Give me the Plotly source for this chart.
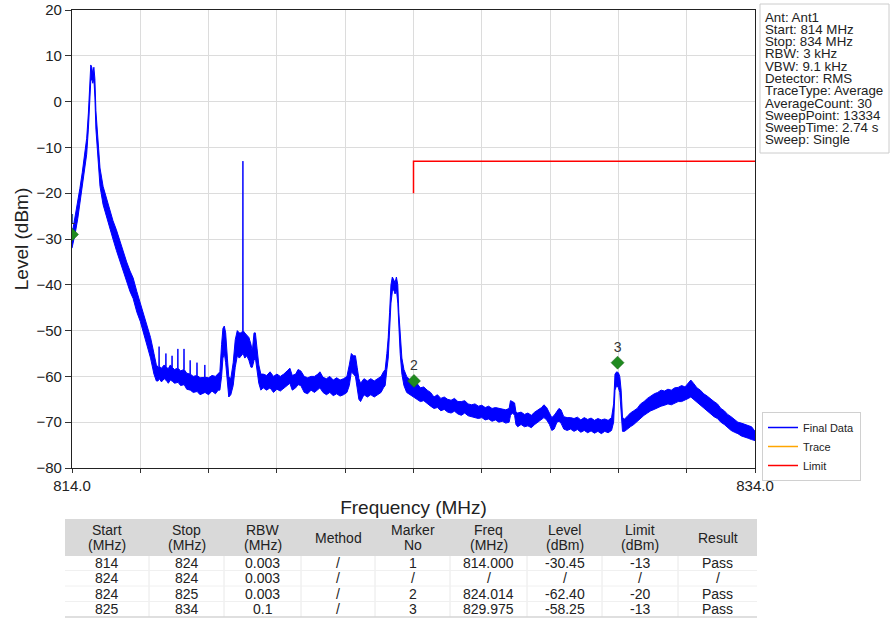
import plotly.graph_objects as go

# ---------------- data ----------------
# Final Data trace: frequency (MHz) with lower / upper edge of the noisy trace band (dBm)
freq_mhz = [
    814.00, 814.05, 814.10, 814.17, 814.23, 814.30, 814.36, 814.43, 814.48, 814.52,
    814.55, 814.58, 814.61, 814.64, 814.67, 814.70, 814.75, 814.82, 814.91, 815.00,
    815.10, 815.20, 815.30, 815.41, 815.50, 815.60, 815.70, 815.79, 815.90, 816.00,
    816.10, 816.20, 816.30, 816.40, 816.47,
    816.52, 816.545, 816.55, 816.555, 816.62, 816.70, 816.745, 816.75, 816.755, 816.82,
    816.88, 816.925, 816.93, 816.935, 817.00, 817.095, 817.10, 817.105, 817.18, 817.275,
    817.28, 817.285, 817.36, 817.455, 817.46, 817.465, 817.55, 817.655, 817.66, 817.665,
    817.75, 817.885, 817.89, 817.895, 818.00, 818.10, 818.20, 818.28,
    818.33, 818.38, 818.42, 818.46, 818.50, 818.55, 818.59, 818.65, 818.72, 818.78,
    818.84, 818.90, 818.96, 819.00, 819.005, 819.01, 819.06, 819.12, 819.18, 819.24,
    819.28, 819.33, 819.37, 819.42, 819.47, 819.53,
    819.60, 819.70, 819.80, 819.90, 820.00, 820.10, 820.20, 820.30, 820.38, 820.45,
    820.55, 820.62, 820.70, 820.80, 820.90, 821.00, 821.10, 821.20, 821.26, 821.35,
    821.45, 821.55, 821.65, 821.75, 821.85, 821.95, 822.05, 822.12, 822.18, 822.24,
    822.30, 822.35, 822.40, 822.45, 822.55, 822.65, 822.75, 822.85, 822.95, 823.05,
    823.12,
    823.17, 823.22, 823.26, 823.30, 823.34, 823.38, 823.42, 823.46, 823.50, 823.54,
    823.57, 823.61, 823.66, 823.72, 823.80, 823.90,
    824.00, 824.10, 824.20, 824.30, 824.40, 824.50, 824.60, 824.70, 824.80, 824.90,
    825.00, 825.10, 825.20, 825.30, 825.40, 825.50, 825.60, 825.70, 825.80, 825.90,
    826.00, 826.10, 826.20, 826.30, 826.40, 826.50, 826.60, 826.70, 826.80, 826.84,
    826.90, 826.96, 827.00, 827.05, 827.15, 827.25, 827.35, 827.45, 827.55, 827.65,
    827.75, 827.82, 827.90, 827.98, 828.05, 828.12, 828.20, 828.26, 828.32, 828.40,
    828.50, 828.60, 828.70, 828.80, 828.90, 829.00, 829.10, 829.20, 829.30, 829.40,
    829.50, 829.60, 829.70, 829.80,
    829.86, 829.90, 829.95, 830.00, 830.04, 830.08, 830.12, 830.18, 830.25, 830.35,
    830.45, 830.55, 830.65, 830.75, 830.85, 830.95, 831.05, 831.15, 831.25, 831.35,
    831.45, 831.55, 831.65, 831.75, 831.85, 831.95, 832.05, 832.12, 832.20, 832.30,
    832.40, 832.50, 832.60, 832.70, 832.80, 832.90, 833.00, 833.10, 833.20, 833.30,
    833.40, 833.50, 833.60, 833.70, 833.80, 833.90, 834.00,
]
level_low = [
    -32.0, -30.5, -28.5, -25.5, -22.5, -19.0, -15.5, -11.5, -6.0, 0.0,
    4.5, 5.0, 4.0, 5.0, 1.0, -6.0, -12.0, -18.5, -22.5, -25.0,
    -27.5, -30.0, -32.5, -35.0, -37.0, -39.0, -41.5, -43.0, -46.0, -48.0,
    -50.5, -53.0, -56.0, -59.5, -61.0,
    -61.0, -60.5, -60.5, -60.5, -61.2, -60.5, -60.8, -60.8, -60.8, -61.5,
    -60.8, -61.0, -61.0, -61.0, -61.5, -61.3, -61.3, -61.3, -62.0, -61.8,
    -61.8, -61.8, -62.8, -63.0, -63.0, -63.0, -63.5, -63.3, -63.3, -63.3,
    -64.0, -63.5, -63.5, -63.5, -64.0, -63.2, -63.8, -63.0,
    -63.0, -60.0, -56.0, -55.0, -57.0, -61.0, -64.5, -64.0, -62.0, -58.0,
    -55.5, -56.0, -55.5, -55.0, -55.0, -55.0, -56.0, -55.5, -56.5, -58.0,
    -58.0, -56.5, -56.0, -59.5, -61.5, -63.0,
    -62.5, -63.0, -62.5, -63.5, -62.8, -63.2, -62.5, -62.0, -61.5, -63.0,
    -62.5, -61.8, -62.0, -63.5, -63.8, -63.0, -63.5, -62.8, -62.5, -63.5,
    -64.0, -63.5, -64.2, -63.8, -64.3, -64.0, -63.5, -62.0, -59.0, -59.5,
    -60.0, -62.5, -65.0, -65.5, -64.0, -64.5, -64.0, -64.5, -64.0, -63.5,
    -62.5,
    -62.0, -58.5, -56.0, -50.0, -44.0, -41.5, -41.0, -42.0, -41.0, -44.0,
    -50.0, -55.0, -59.5, -62.0, -63.5, -64.0,
    -64.5, -65.0, -65.5, -65.3, -66.0, -66.5, -67.0, -66.8, -67.5, -67.2,
    -67.8, -68.0, -67.6, -68.2, -68.5, -68.0, -68.6, -68.8, -69.0, -69.2,
    -69.0, -69.5, -69.3, -69.8, -69.5, -70.0, -69.8, -70.2, -70.0, -68.5,
    -68.0, -68.5, -70.5, -71.0, -70.5, -71.0, -70.8, -71.2, -70.5, -70.0,
    -69.5, -69.0, -69.5, -70.5, -71.8, -71.5, -70.0, -69.8, -70.2, -71.5,
    -71.8, -71.5, -72.0, -71.6, -72.2, -71.8, -72.3, -71.9, -72.4, -72.0,
    -72.5, -72.0, -72.3, -71.8,
    -70.0, -63.0, -62.0, -62.5, -63.5, -67.0, -72.0, -72.0, -71.5, -71.0,
    -70.5, -69.8, -69.0, -68.5, -68.0, -67.5, -67.2, -66.8, -66.5, -66.3,
    -66.0, -66.2, -65.8, -65.5, -65.5, -65.2, -64.8, -64.5, -65.0, -65.8,
    -66.3, -67.0, -67.6, -68.2, -68.8, -69.2, -70.0, -70.5, -71.2, -71.8,
    -72.2, -72.5, -73.0, -73.2, -73.5, -73.8, -74.0,
]
level_high = [
    -29.0, -27.0, -25.0, -22.0, -19.0, -15.5, -12.0, -8.0, -2.5, 3.5,
    8.0, 7.5, 6.0, 7.5, 5.0, -2.0, -8.0, -14.5, -18.5, -21.0,
    -23.5, -26.0, -28.0, -30.5, -33.0, -35.0, -37.0, -38.5, -41.5, -44.0,
    -46.0, -48.5, -51.5, -55.0, -57.5,
    -58.0, -57.8, -53.5, -57.8, -58.2, -57.5, -58.0, -55.0, -58.0, -58.3,
    -57.5, -58.0, -55.5, -58.0, -58.5, -58.2, -54.0, -58.2, -58.8, -58.5,
    -54.0, -58.5, -59.3, -59.5, -56.5, -59.5, -60.0, -59.8, -57.0, -59.8,
    -60.3, -60.2, -57.5, -60.2, -60.3, -59.8, -60.0, -59.5,
    -59.0, -53.0, -49.5, -49.0, -50.5, -56.0, -60.0, -60.5, -57.0, -52.0,
    -50.0, -50.5, -50.5, -50.0, -13.0, -50.0, -50.5, -51.0, -51.5, -53.0,
    -54.5, -50.5, -50.5, -54.0, -57.5, -59.5,
    -59.5, -59.8, -59.0, -60.0, -59.5, -60.0, -59.5, -58.8, -58.2, -59.8,
    -59.5, -58.5, -58.8, -60.0, -60.3, -60.0, -60.0, -59.5, -59.0, -60.2,
    -60.5, -60.0, -60.8, -60.3, -60.8, -60.5, -60.0, -57.5, -55.0, -55.5,
    -55.5, -58.0, -60.5, -61.5, -60.5, -61.0, -60.5, -61.0, -60.5, -60.0,
    -59.0,
    -58.5, -55.0, -51.5, -46.0, -40.0, -38.3, -38.8, -39.5, -38.3, -40.0,
    -46.0, -51.0, -56.0, -58.5, -60.0, -60.8,
    -61.2, -61.5, -62.5, -62.3, -63.0, -63.5, -64.5, -64.0, -64.8, -64.5,
    -65.0, -65.2, -64.8, -65.5, -65.5, -65.3, -66.0, -66.2, -66.0, -66.5,
    -66.3, -66.8, -66.5, -67.0, -66.8, -67.0, -67.2, -67.3, -67.0, -65.3,
    -65.5, -65.8, -67.8, -68.0, -67.8, -68.3, -68.0, -68.5, -67.8, -67.3,
    -66.8, -66.2, -66.8, -68.0, -69.0, -68.5, -67.5, -67.0, -67.3, -68.8,
    -69.0, -69.0, -69.2, -68.9, -69.5, -69.0, -69.4, -69.1, -69.6, -69.2,
    -69.5, -69.3, -69.6, -69.0,
    -66.0, -59.5, -59.0, -59.2, -60.0, -63.0, -69.0, -69.3, -68.8, -68.0,
    -67.5, -67.0, -66.0, -65.5, -64.8, -64.3, -63.8, -63.5, -63.0, -63.2,
    -62.8, -63.0, -62.5, -62.4, -62.0, -62.3, -61.5, -60.8, -61.5, -62.5,
    -63.0, -63.8, -64.3, -65.0, -65.5, -66.0, -67.0, -67.5, -68.3, -68.8,
    -69.5, -70.0, -70.2, -70.5, -70.8, -71.0, -72.0,
]
assert len(freq_mhz) == len(level_low) == len(level_high)

# Limit line
limit_freq = [824.0, 824.0, 834.0]
limit_level = [-20.0, -13.0, -13.0]

# Markers (position as drawn)
marker_no = ["1", "2", "3"]
marker_freq = [814.000, 824.014, 829.975]
marker_level = [-29.0, -61.0, -57.0]

# Info box text
info_lines = ["Ant: Ant1", "Start: 814 MHz", "Stop: 834 MHz", "RBW: 3 kHz",
              "VBW: 9.1 kHz", "Detector: RMS", "TraceType: Average",
              "AverageCount: 30", "SweepPoint: 13334", "SweepTime: 2.74 s",
              "Sweep: Single"]

# Axis ticks
x_tick_vals = [814, 816, 818, 820, 822, 824, 826, 828, 830, 832, 834]
x_tick_text = ["814.0", "", "", "", "", "", "", "", "", "", "834.0"]
y_tick_vals = [20, 10, 0, -10, -20, -30, -40, -50, -60, -70, -80]

# Result table
tbl_header = [["Start", "(MHz)"], ["Stop", "(MHz)"], ["RBW", "(MHz)"], ["Method"],
              ["Marker", "No"], ["Freq", "(MHz)"], ["Level", "(dBm)"],
              ["Limit", "(dBm)"], ["Result"]]
tbl_start = ["814", "824", "824", "825"]
tbl_stop = ["824", "824", "825", "834"]
tbl_rbw = ["0.003", "0.003", "0.003", "0.1"]
tbl_method = ["/", "/", "/", "/"]
tbl_marker = ["1", "/", "2", "3"]
tbl_freq = ["814.000", "/", "824.014", "829.975"]
tbl_level = ["-30.45", "/", "-62.40", "-58.25"]
tbl_limit = ["-13", "/", "-20", "-13"]
tbl_result = ["Pass", "/", "Pass", "Pass"]
tbl_columns = [tbl_start, tbl_stop, tbl_rbw, tbl_method, tbl_marker,
               tbl_freq, tbl_level, tbl_limit, tbl_result]

# ---------------- figure ----------------
W, H = 891, 625
FONT = "Liberation Sans, Arial, sans-serif"
BLUE = "#0000ff"
TXT = "#222222"


def px_x(px):
    return px / W


def px_y(py):
    return (H - py) / H


fig = go.Figure()

# trace band (lower edge, then upper edge filled to it)
fig.add_trace(go.Scatter(x=freq_mhz, y=level_low, mode="lines",
                         line=dict(color=BLUE, width=1), showlegend=False,
                         hoverinfo="skip"))
fig.add_trace(go.Scatter(x=freq_mhz, y=level_high, mode="lines",
                         line=dict(color=BLUE, width=1), fill="tonexty",
                         fillcolor=BLUE, showlegend=False))

# legend entries
fig.add_trace(go.Scatter(x=[None], y=[None], mode="lines", name="Final Data",
                         line=dict(color=BLUE, width=1.5)))
fig.add_trace(go.Scatter(x=[None], y=[None], mode="lines", name="Trace",
                         line=dict(color="#ffa500", width=1.5)))
fig.add_trace(go.Scatter(x=limit_freq, y=limit_level, mode="lines", name="Limit",
                         line=dict(color="#ff0000", width=1.5)))

# markers
fig.add_trace(go.Scatter(x=marker_freq, y=marker_level, mode="markers+text",
                         text=marker_no, textposition="top center",
                         textfont=dict(size=14, color="#333333", family=FONT),
                         marker=dict(symbol="diamond", size=10, color="#1f8a1f",
                                     line=dict(color="#156015", width=0.5)),
                         showlegend=False))

# ---- result table drawn with shapes + text ----
col_edges = [65, 149, 224, 301, 375, 450, 527, 602, 678, 757]
hdr_top, hdr_bot = 519, 556
row_centers = [563, 578, 594, 609]
tbl_bottom = 617

fig.add_shape(type="rect", xref="paper", yref="paper", layer="below",
              x0=px_x(col_edges[0]), x1=px_x(col_edges[-1]),
              y0=px_y(hdr_bot), y1=px_y(hdr_top),
              fillcolor="#d9d9d9", line=dict(width=0))
for e in col_edges[1:-1]:
    fig.add_shape(type="line", xref="paper", yref="paper",
                  x0=px_x(e), x1=px_x(e), y0=px_y(tbl_bottom), y1=px_y(hdr_bot),
                  line=dict(color="#e8e8e8", width=1))
for yb in [570.5, 586, 601.5]:
    fig.add_shape(type="line", xref="paper", yref="paper",
                  x0=px_x(col_edges[0]), x1=px_x(col_edges[-1]),
                  y0=px_y(yb), y1=px_y(yb),
                  line=dict(color="#f0f0f0", width=1))
fig.add_shape(type="line", xref="paper", yref="paper",
              x0=px_x(col_edges[0]), x1=px_x(col_edges[-1]),
              y0=px_y(tbl_bottom), y1=px_y(tbl_bottom),
              line=dict(color="#d4d4d4", width=1.5))

for ci, (hdr, col) in enumerate(zip(tbl_header, tbl_columns)):
    cx = px_x((col_edges[ci] + col_edges[ci + 1]) / 2)
    if len(hdr) == 2:
        hdr_pos = [530, 545]
    else:
        hdr_pos = [537.5]
    for t, yy in zip(hdr, hdr_pos):
        fig.add_annotation(text=t, xref="paper", yref="paper", x=cx, y=px_y(yy),
                           xanchor="center", yanchor="middle", showarrow=False,
                           font=dict(family=FONT, size=14, color=TXT))
    for t, yy in zip(col, row_centers):
        fig.add_annotation(text=t, xref="paper", yref="paper", x=cx, y=px_y(yy),
                           xanchor="center", yanchor="middle", showarrow=False,
                           font=dict(family=FONT, size=14, color=TXT))

# info box
for i, t in enumerate(info_lines):
    fig.add_annotation(text=t, xref="paper", yref="paper",
                       x=px_x(763), y=px_y(17 + 12.3 * i),
                       xanchor="left", yanchor="middle", showarrow=False,
                       font=dict(family=FONT, size=13.3, color=TXT))
fig.add_shape(type="rect", xref="paper", yref="paper",
              x0=px_x(760), x1=px_x(889), y0=px_y(153), y1=px_y(4),
              line=dict(color="#cccccc", width=1))

fig.update_layout(
    width=W, height=H,
    margin=dict(l=0, r=0, t=0, b=0, autoexpand=False),
    paper_bgcolor="white", plot_bgcolor="white",
    font=dict(family=FONT, color=TXT),
    showlegend=True,
    legend=dict(x=px_x(762), y=px_y(412), xanchor="left", yanchor="top",
                bordercolor="#d0d0d0", borderwidth=1, bgcolor="white",
                font=dict(family=FONT, size=11, color=TXT),
                itemwidth=30, tracegroupgap=0, traceorder="normal"),
    xaxis=dict(domain=[px_x(72), px_x(755)], range=[814, 834], automargin=False,
               tickvals=x_tick_vals, ticktext=x_tick_text,
               ticks="outside", ticklen=4, tickcolor="#333333",
               showgrid=True, gridcolor="#dcdcdc", gridwidth=1,
               showline=True, linecolor=TXT, linewidth=1.2, mirror=True,
               zeroline=False,
               tickfont=dict(family=FONT, size=15, color=TXT),
               title=dict(text="Frequency (MHz)", standoff=7,
                          font=dict(family=FONT, size=19, color=TXT))),
    yaxis=dict(domain=[px_y(468), px_y(10)], range=[-80, 20], automargin=False,
               tickvals=y_tick_vals,
               ticks="outside", ticklen=6, tickcolor="#333333",
               showgrid=True, gridcolor="#dcdcdc", gridwidth=1,
               showline=True, linecolor=TXT, linewidth=1.2, mirror=True,
               zeroline=False,
               tickfont=dict(family=FONT, size=15, color=TXT),
               title=dict(text="Level (dBm)", standoff=2,
                          font=dict(family=FONT, size=19, color=TXT))),
)

# remove the browser's default 8px page margin so the figure fills the window
fig.write_html("out.html",
               config={"displayModeBar": False},
               post_script="document.body.style.margin='0';")
